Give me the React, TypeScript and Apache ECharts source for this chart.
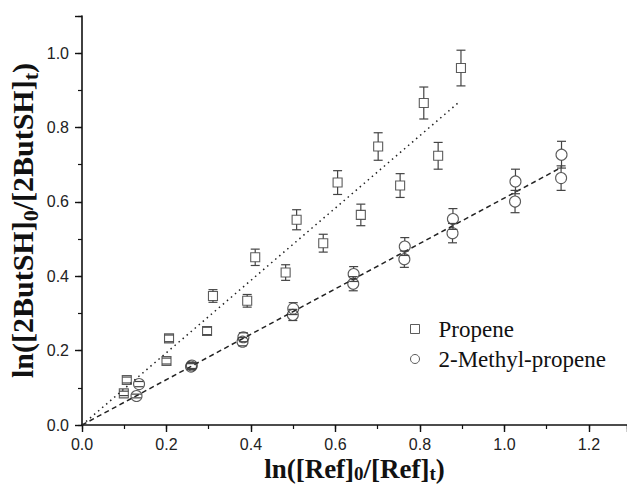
import React, { useEffect, useRef } from "react";
import * as echarts from "echarts";

// Propene (squares)
const propeneX = [0.099, 0.106, 0.2, 0.206, 0.296, 0.31, 0.391, 0.41, 0.482, 0.508, 0.571, 0.605, 0.66, 0.701, 0.753, 0.809, 0.843, 0.897];
const propeneY = [0.085, 0.121, 0.172, 0.233, 0.253, 0.347, 0.334, 0.451, 0.41, 0.552, 0.489, 0.652, 0.565, 0.749, 0.644, 0.866, 0.724, 0.96];
const propeneErr = [0.006, 0.008, 0.008, 0.009, 0.01, 0.017, 0.017, 0.022, 0.021, 0.027, 0.024, 0.032, 0.029, 0.037, 0.032, 0.043, 0.036, 0.048];

// 2-Methyl-propene (circles)
const methylX = [0.129, 0.135, 0.258, 0.26, 0.38, 0.382, 0.499, 0.5, 0.642, 0.643, 0.763, 0.764, 0.877, 0.878, 1.025, 1.026, 1.134, 1.135];
const methylY = [0.078, 0.11, 0.157, 0.16, 0.224, 0.236, 0.296, 0.313, 0.38, 0.406, 0.446, 0.48, 0.516, 0.554, 0.601, 0.655, 0.664, 0.727];
const methylErr = [0.005, 0.007, 0.008, 0.008, 0.011, 0.012, 0.015, 0.016, 0.019, 0.02, 0.022, 0.024, 0.026, 0.028, 0.03, 0.033, 0.033, 0.036];

// Fit lines
const propeneFitX = [0, 0.89];
const propeneFitY = [0, 0.866];
const methylFitX = [0, 1.135];
const methylFitY = [0, 0.693];

const xMin = 0;
const xMax = 1.29;
const yMin = 0;
const yMax = 1.1;
const majorStep = 0.2;
const minorStep = 0.1;

const zip = (a: number[], b: number[], c?: number[]) =>
  a.map((v, i) => (c ? [v, b[i], c[i]] : [v, b[i]]));

const isMajor = (v: number) => Math.abs(v / majorStep - Math.round(v / majorStep)) < 1e-6;

const LINE = "#111";
const MARK = "#333";

function errRenderer(half: number) {
  return (params: any, api: any) => {
    const x = api.value(0);
    const y = api.value(1);
    const e = api.value(2);
    const c = api.coord([x, y]);
    const t = api.coord([x, y + e]);
    const b = api.coord([x, y - e]);
    const w = 4.5;
    const style = { stroke: "#444", lineWidth: 1.2 };
    const children: any[] = [
      { type: "line", shape: { x1: c[0] - w, y1: t[1], x2: c[0] + w, y2: t[1] }, style },
      { type: "line", shape: { x1: c[0] - w, y1: b[1], x2: c[0] + w, y2: b[1] }, style },
    ];
    if (t[1] < c[1] - half) {
      children.push({ type: "line", shape: { x1: c[0], y1: t[1], x2: c[0], y2: c[1] - half }, style });
    }
    if (b[1] > c[1] + half) {
      children.push({ type: "line", shape: { x1: c[0], y1: c[1] + half, x2: c[0], y2: b[1] }, style });
    }
    return { type: "group", children };
  };
}

const labelFont = "'Liberation Sans', Arial, sans-serif";
const serif = "'Liberation Serif', 'Times New Roman', serif";

const makeNameStyle = (size: number, sub: number, drop: number) => ({
  fontFamily: serif,
  fontWeight: "bold" as const,
  fontSize: size,
  color: "#111",
  rich: {
    s: {
      fontFamily: serif,
      fontWeight: "bold" as const,
      fontSize: sub,
      color: "#111",
      padding: [drop, 0, 0, 0],
    },
  },
});

export default function App() {
  const ref = useRef<HTMLDivElement>(null);
  useEffect(() => {
    if (!ref.current) return;
    const chart = echarts.init(ref.current, undefined, { renderer: "svg" });
    const option: any = {
      animation: false,
      backgroundColor: "#fff",
      grid: { left: 82, right: 0, top: 16, bottom: 61, containLabel: false, outerBoundsMode: "none" },
      legend: {
        orient: "vertical",
        left: 405,
        top: 312,
        itemWidth: 9,
        itemHeight: 9,
        itemGap: 6,
        textStyle: { fontFamily: serif, fontSize: 23, color: "#111", padding: [0, 0, 0, 14], lineHeight: 24 },
        data: [
          { name: "Propene", icon: "rect", itemStyle: { color: "#fff", borderColor: MARK, borderWidth: 1 } },
          { name: "2-Methyl-propene", icon: "circle", itemStyle: { color: "#fff", borderColor: MARK, borderWidth: 1 } },
        ],
      },
      xAxis: [
        {
          type: "value",
          min: xMin,
          max: xMax,
          interval: majorStep,
          position: "bottom",
          axisLine: { show: true, onZero: false, lineStyle: { color: LINE, width: 1.6 } },
          axisTick: { show: true, length: 7, lineStyle: { color: LINE, width: 1.4 } },
          axisLabel: {
            fontFamily: labelFont,
            fontSize: 16,
            color: "#222",
            margin: 11,
            formatter: (v: number) => (isMajor(v) ? v.toFixed(1) : ""),
          },
          splitLine: { show: false },
          name: "ln([Ref]{s|0}/[Ref]{s|t})",
          nameLocation: "middle",
          nameGap: 30,
          nameMoveOverlap: false,
          nameTextStyle: makeNameStyle(27, 19, 9),
        },
        {
          type: "value",
          min: xMin,
          max: xMax,
          interval: minorStep,
          position: "bottom",
          offset: 0,
          axisLine: { show: false },
          axisTick: { show: true, length: 4, lineStyle: { color: LINE, width: 1.2 } },
          axisLabel: { show: false },
          splitLine: { show: false },
        },
      ],
      yAxis: [
        {
          type: "value",
          min: yMin,
          max: yMax,
          interval: majorStep,
          position: "left",
          axisLine: { show: true, onZero: false, lineStyle: { color: LINE, width: 1.6 } },
          axisTick: { show: true, length: 7, lineStyle: { color: LINE, width: 1.4 } },
          axisLabel: {
            fontFamily: labelFont,
            fontSize: 16,
            color: "#222",
            margin: 13,
            formatter: (v: number) => (isMajor(v) ? v.toFixed(1) : ""),
          },
          splitLine: { show: false },
          name: "ln([2ButSH]{s|0}/[2ButSH]{s|t})",
          nameLocation: "middle",
          nameGap: 41,
          nameMoveOverlap: false,
          nameTextStyle: makeNameStyle(30, 22, 15),
        },
        {
          type: "value",
          min: yMin,
          max: yMax,
          interval: minorStep,
          position: "left",
          offset: 0,
          axisLine: { show: false },
          axisTick: { show: true, length: 4, lineStyle: { color: LINE, width: 1.2 } },
          axisLabel: { show: false },
          splitLine: { show: false },
        },
      ],
      series: [
        {
          name: "propeneFit",
          type: "line",
          data: zip(propeneFitX, propeneFitY),
          symbol: "none",
          lineStyle: { color: "#222", width: 1.5, type: [1.5, 3.8] },
          z: 2,
        },
        {
          name: "methylFit",
          type: "line",
          data: zip(methylFitX, methylFitY),
          symbol: "none",
          lineStyle: { color: "#222", width: 1.5, type: [5, 3.5] },
          z: 2,
        },
        {
          name: "Propene",
          type: "scatter",
          data: zip(propeneX, propeneY),
          symbol: "rect",
          symbolSize: 9,
          itemStyle: { color: "rgba(255,255,255,0)", borderColor: MARK, borderWidth: 1.1 },
          z: 3,
        },
        {
          name: "2-Methyl-propene",
          type: "scatter",
          data: zip(methylX, methylY),
          symbol: "circle",
          symbolSize: 11,
          itemStyle: { color: "rgba(255,255,255,0)", borderColor: MARK, borderWidth: 1.1 },
          z: 3,
        },
        {
          name: "propeneErr",
          type: "custom",
          data: zip(propeneX, propeneY, propeneErr),
          encode: { x: 0, y: 1 },
          renderItem: errRenderer(4.5),
          z: 4,
        },
        {
          name: "methylErr",
          type: "custom",
          data: zip(methylX, methylY, methylErr),
          encode: { x: 0, y: 1 },
          renderItem: errRenderer(5.5),
          z: 4,
        },
      ],
    };
    chart.setOption(option);
    return () => chart.dispose();
  }, []);
  return (
    <div
      ref={ref}
      style={{ position: "fixed", left: 0, top: 0, width: 627, height: 486, background: "#fff" }}
    />
  );
}
